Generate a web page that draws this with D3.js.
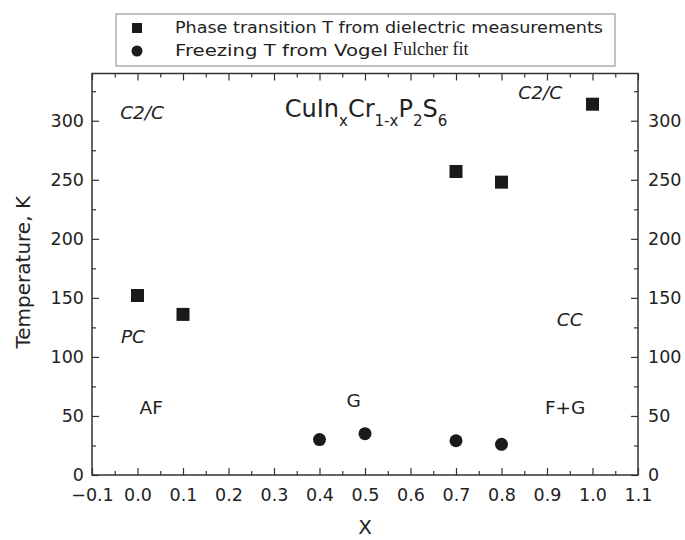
<!DOCTYPE html>
<html>
<head>
<meta charset="utf-8">
<script src="https://cdn.jsdelivr.net/npm/d3@7"></script>
<style>
body{margin:0;background:#fff;}
svg text{font-family:"DejaVu Sans",sans-serif;fill:#222;}
</style>
</head>
<body>
<svg id="chart"></svg>
<script>
// 页面大小
var width = 685, height = 540;
var padding = {top:73.5, right:47, bottom:65, left:92};

// 数据 (读自图片)
var transX = [0.0, 0.1, 0.7, 0.8, 1.0];
var transT = [152, 136, 257, 248, 314];
var freezeX = [0.4, 0.5, 0.7, 0.8];
var freezeT = [30, 35, 29, 26];

var xTicks = [-0.1,0,0.1,0.2,0.3,0.4,0.5,0.6,0.7,0.8,0.9,1.0,1.1];
var yTicks = [0,50,100,150,200,250,300];

// 相区标注
var phaseNames = ["C2/C","C2/C","PC","CC","AF","G","F+G"];
var phaseX = [0.01, 0.885, -0.01, 0.95, 0.03, 0.475, 0.94];
var phaseT = [306, 323, 116, 130, 56, 62, 56];
var phaseItalic = [true, true, true, true, false, false, false];

var svg = d3.select("#chart").attr("width", width).attr("height", height);

var xScale = d3.scaleLinear().domain([-0.1, 1.1]).range([padding.left, width - padding.right]);
var yScale = d3.scaleLinear().domain([0, 340]).range([height - padding.bottom, padding.top]);

var x0 = padding.left, x1 = width - padding.right;
var y0 = height - padding.bottom, y1 = padding.top;

var minorX = d3.range(-0.05, 1.1, 0.1);
var minorY = d3.range(25, 340, 50);

function styleAxis(g){
	g.select(".domain").remove();
	g.selectAll("line").attr("stroke","#333").attr("stroke-width",1.2);
	g.selectAll("text").style("font-size","17.5px").attr("fill","#333");
}

// 下轴
svg.append("g").attr("transform","translate(0,"+y0+")")
	.call(d3.axisBottom(xScale).tickValues(xTicks).tickSizeInner(-7).tickSizeOuter(0).tickPadding(14).tickFormat(d3.format(".1f")))
	.call(styleAxis);
svg.append("g").attr("transform","translate(0,"+y0+")")
	.call(d3.axisBottom(xScale).tickValues(minorX).tickSizeInner(-4).tickSizeOuter(0).tickFormat(""))
	.call(styleAxis);
// 上轴
svg.append("g").attr("transform","translate(0,"+y1+")")
	.call(d3.axisTop(xScale).tickValues(xTicks).tickSizeInner(-7).tickSizeOuter(0).tickFormat(""))
	.call(styleAxis);
svg.append("g").attr("transform","translate(0,"+y1+")")
	.call(d3.axisTop(xScale).tickValues(minorX).tickSizeInner(-4).tickSizeOuter(0).tickFormat(""))
	.call(styleAxis);
// 左轴
svg.append("g").attr("transform","translate("+x0+",0)")
	.call(d3.axisLeft(yScale).tickValues(yTicks).tickSizeInner(-7).tickSizeOuter(0).tickPadding(8))
	.call(styleAxis);
svg.append("g").attr("transform","translate("+x0+",0)")
	.call(d3.axisLeft(yScale).tickValues(minorY).tickSizeInner(-4).tickSizeOuter(0).tickFormat(""))
	.call(styleAxis);
// 右轴
svg.append("g").attr("transform","translate("+x1+",0)")
	.call(d3.axisRight(yScale).tickValues(yTicks).tickSizeInner(-7).tickSizeOuter(0).tickPadding(10))
	.call(styleAxis);
svg.append("g").attr("transform","translate("+x1+",0)")
	.call(d3.axisRight(yScale).tickValues(minorY).tickSizeInner(-4).tickSizeOuter(0).tickFormat(""))
	.call(styleAxis);

// 边框
svg.append("rect")
	.attr("x", x0).attr("y", y1)
	.attr("width", x1 - x0).attr("height", y0 - y1)
	.attr("fill","none").attr("stroke","#333").attr("stroke-width",1.5);

// 轴标题
svg.append("text")
	.attr("transform","translate(24,"+((y0+y1)/2 - 2)+") rotate(-90)")
	.attr("text-anchor","middle")
	.attr("dominant-baseline","middle")
	.style("font-size","20px")
	.text("Temperature, K");
svg.append("text")
	.attr("x",(x0+x1)/2).attr("y",534)
	.attr("text-anchor","middle")
	.style("font-size","20px")
	.text("X");

// 方块点
var sq = 13;
svg.append("g").selectAll("rect")
	.data(transX)
	.enter()
	.append("rect")
	.attr("x",(d) => xScale(d) - sq/2)
	.attr("y",(d,i) => yScale(transT[i]) - sq/2)
	.attr("width",sq).attr("height",sq)
	.attr("fill","#1a1a1a");

// 圆点
svg.append("g").selectAll("circle")
	.data(freezeX)
	.enter()
	.append("circle")
	.attr("cx",(d) => xScale(d))
	.attr("cy",(d,i) => yScale(freezeT[i]))
	.attr("r",6.5)
	.attr("fill","#1a1a1a");

// 相区文字
svg.append("g").selectAll("text")
	.data(phaseNames)
	.enter()
	.append("text")
	.attr("x",(d,i) => xScale(phaseX[i]))
	.attr("y",(d,i) => yScale(phaseT[i]))
	.attr("text-anchor","middle")
	.attr("dominant-baseline","middle")
	.style("font-size","18.5px")
	.style("font-style",(d,i) => phaseItalic[i] ? "italic" : "normal")
	.text(d => d);

// 化学式标题
var formula = svg.append("text")
	.attr("x",366).attr("y",117)
	.attr("text-anchor","middle")
	.style("font-size","24px");
formula.append("tspan").text("CuIn");
formula.append("tspan").attr("baseline-shift","sub").style("font-size","15px").text("x");
formula.append("tspan").text("Cr");
formula.append("tspan").attr("baseline-shift","sub").style("font-size","15px").text("1-x");
formula.append("tspan").text("P");
formula.append("tspan").attr("baseline-shift","sub").style("font-size","15px").text("2");
formula.append("tspan").text("S");
formula.append("tspan").attr("baseline-shift","sub").style("font-size","15px").text("6");

// 图例
var legend = svg.append("g");
legend.append("rect")
	.attr("x",116).attr("y",14).attr("width",499).attr("height",52)
	.attr("fill","#fff").attr("stroke","#999").attr("stroke-width",1.2);
legend.append("rect")
	.attr("x",137 - 5).attr("y",28 - 5).attr("width",10).attr("height",10)
	.attr("fill","#1a1a1a");
legend.append("circle")
	.attr("cx",137).attr("cy",51).attr("r",5.5)
	.attr("fill","#1a1a1a");
legend.append("text")
	.attr("x",175).attr("y",28)
	.attr("dominant-baseline","middle")
	.attr("textLength",428).attr("lengthAdjust","spacingAndGlyphs")
	.style("font-size","16px")
	.text("Phase transition T from dielectric measurements");
var lt = legend.append("text")
	.attr("x",175).attr("y",51)
	.attr("dominant-baseline","middle")
	.style("font-size","16px");
lt.append("tspan").attr("textLength",213).attr("lengthAdjust","spacingAndGlyphs").text("Freezing T from Vogel");
lt.append("tspan").attr("dx",5).style("font-family","'Liberation Serif',serif").style("font-size","18px").text("Fulcher fit");
</script>
</body>
</html>
